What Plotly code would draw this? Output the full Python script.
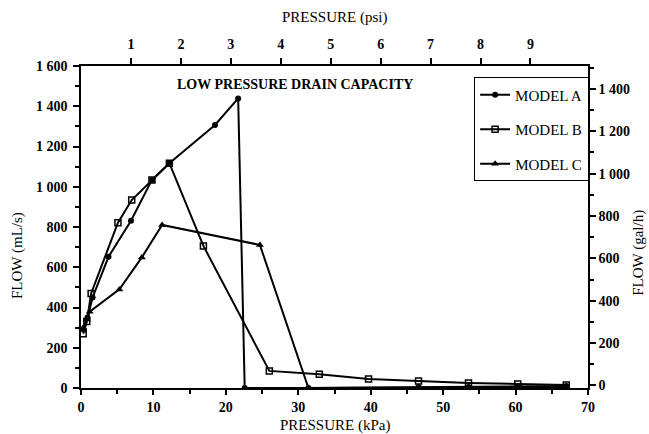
import plotly.graph_objects as go

# ---------------- data ----------------
a_kpa = [0.4, 0.9, 1.6, 3.8, 6.9, 9.8, 12.2, 18.5, 21.7, 22.6, 31.4, 46.6, 53.5, 60.3, 67.0]
a_flow = [290, 350, 450, 652, 831, 1034, 1117, 1307, 1439, 0, 0, 5, 5, 8, 10]

b_kpa = [0.3, 0.8, 1.4, 5.1, 7.0, 9.8, 12.2, 16.9, 26.0, 32.9, 39.7, 46.6, 53.5, 60.3, 67.0]
b_flow = [270, 330, 470, 821, 934, 1034, 1117, 706, 85, 68, 45, 35, 25, 20, 15]

c_kpa = [0.3, 0.8, 1.2, 5.3, 8.4, 11.2, 24.7, 31.4, 46.6, 53.5, 60.3, 67.0]
c_flow = [300, 340, 379, 490, 649, 810, 711, 0, 3, 3, 5, 5]

kpa_ticks = [0, 10, 20, 30, 40, 50, 60, 70]
psi_ticks = [1, 2, 3, 4, 5, 6, 7, 8, 9]
mls_ticks = [0, 200, 400, 600, 800, 1000, 1200, 1400, 1600]
mls_labels = ["0", "200", "400", "600", "800", "1 000", "1 200", "1 400", "1 600"]
gph_ticks = [0, 200, 400, 600, 800, 1000, 1200, 1400]
gph_labels = ["0", "200", "400", "600", "800", "1 000", "1 200", "1 400"]

KPA_PER_PSI = 6.895
MLS_PER_GPH = 1.0515
X_MAX = 70
Y_MAX = 1600

FONT = "Liberation Serif"
tickfont = dict(family=FONT, size=14, color="black", weight="bold")
titlefont = dict(family=FONT, size=15, color="black")

fig = go.Figure()
fig.add_trace(go.Scatter(x=a_kpa, y=a_flow, name="MODEL A", mode="lines+markers",
                         legendgroup="a",
                         line=dict(color="black", width=2),
                         marker=dict(symbol="circle", size=6, color="black")))
fig.add_trace(go.Scatter(x=b_kpa, y=b_flow, name="MODEL B", mode="lines+markers",
                         legendgroup="b",
                         line=dict(color="black", width=2),
                         marker=dict(symbol="square-open", size=6, color="black",
                                     line=dict(width=1.5))))
fig.add_trace(go.Scatter(x=c_kpa, y=c_flow, name="MODEL C", mode="lines+markers",
                         legendgroup="c",
                         line=dict(color="black", width=2),
                         marker=dict(symbol="triangle-up", size=7, color="black")))
# same Model A data expressed in psi / gal/h, on the secondary (top/right) axes;
# drawn transparent so that the secondary axes are created
fig.add_trace(go.Scatter(x=[p / KPA_PER_PSI for p in a_kpa],
                         y=[f / MLS_PER_GPH for f in a_flow],
                         xaxis="x2", yaxis="y2", mode="lines", showlegend=False,
                         hoverinfo="skip", line=dict(color="rgba(0,0,0,0)", width=0)))

axis_common = dict(showgrid=False, zeroline=False, showline=True, linecolor="black",
                   linewidth=1.5, ticks="outside", tickcolor="black", tickwidth=1.5,
                   tickfont=tickfont)

fig.update_layout(
    width=649, height=434,
    margin=dict(l=81, r=61, t=66, b=46, autoexpand=False),
    paper_bgcolor="white", plot_bgcolor="white",
    showlegend=True,
    legend=dict(x=0.775, y=0.965, xanchor="left", yanchor="top",
                bordercolor="black", borderwidth=1.2, bgcolor="white",
                font=dict(family=FONT, size=15, color="black"),
                tracegroupgap=12, itemwidth=30),
    xaxis=dict(range=[0, X_MAX], tickvals=kpa_ticks, ticklen=5,
               minor=dict(dtick=5, tick0=0, ticks="outside", ticklen=4, tickcolor="black"),
               **axis_common),
    xaxis2=dict(overlaying="x", side="top", range=[0, X_MAX / KPA_PER_PSI],
                tickvals=psi_ticks, ticklen=6, ticklabelstandoff=4, **axis_common),
    yaxis=dict(range=[0, Y_MAX], tickvals=mls_ticks, ticktext=mls_labels, ticklen=6,
               ticklabelstandoff=3,
               minor=dict(dtick=100, tick0=0, ticks="outside", ticklen=4, tickcolor="black"),
               **axis_common),
    yaxis2=dict(overlaying="y", side="right", range=[-12, 1508], tickvals=gph_ticks,
                ticktext=gph_labels, ticklen=6,
                minor=dict(dtick=100, tick0=0, ticks="outside", ticklen=4, tickcolor="black"),
                **axis_common),
    annotations=[
        dict(text="<b>LOW PRESSURE DRAIN CAPACITY</b>", xref="paper", yref="paper",
             x=0.185, y=0.942, xanchor="left", yanchor="middle", showarrow=False,
             font=dict(family=FONT, size=14, color="black")),
        dict(text="PRESSURE (psi)", xref="paper", yref="paper", x=0.5, y=1.0,
             yshift=49, xanchor="center", yanchor="middle", showarrow=False, font=titlefont),
        dict(text="PRESSURE (kPa)", xref="paper", yref="paper", x=0.5, y=0.0,
             yshift=-37, xanchor="center", yanchor="middle", showarrow=False, font=titlefont),
        dict(text="FLOW (mL/s)", xref="paper", yref="paper", x=0.0, y=0.41,
             xshift=-63, xanchor="center", yanchor="middle", textangle=-90,
             showarrow=False, font=titlefont),
        dict(text="FLOW (gal/h)", xref="paper", yref="paper", x=1.0, y=0.42,
             xshift=51, xanchor="center", yanchor="middle", textangle=-90,
             showarrow=False, font=titlefont),
    ],
)

fig.write_html("out.html", config={"displayModeBar": False},
               post_script="document.body.style.margin='0px';")
